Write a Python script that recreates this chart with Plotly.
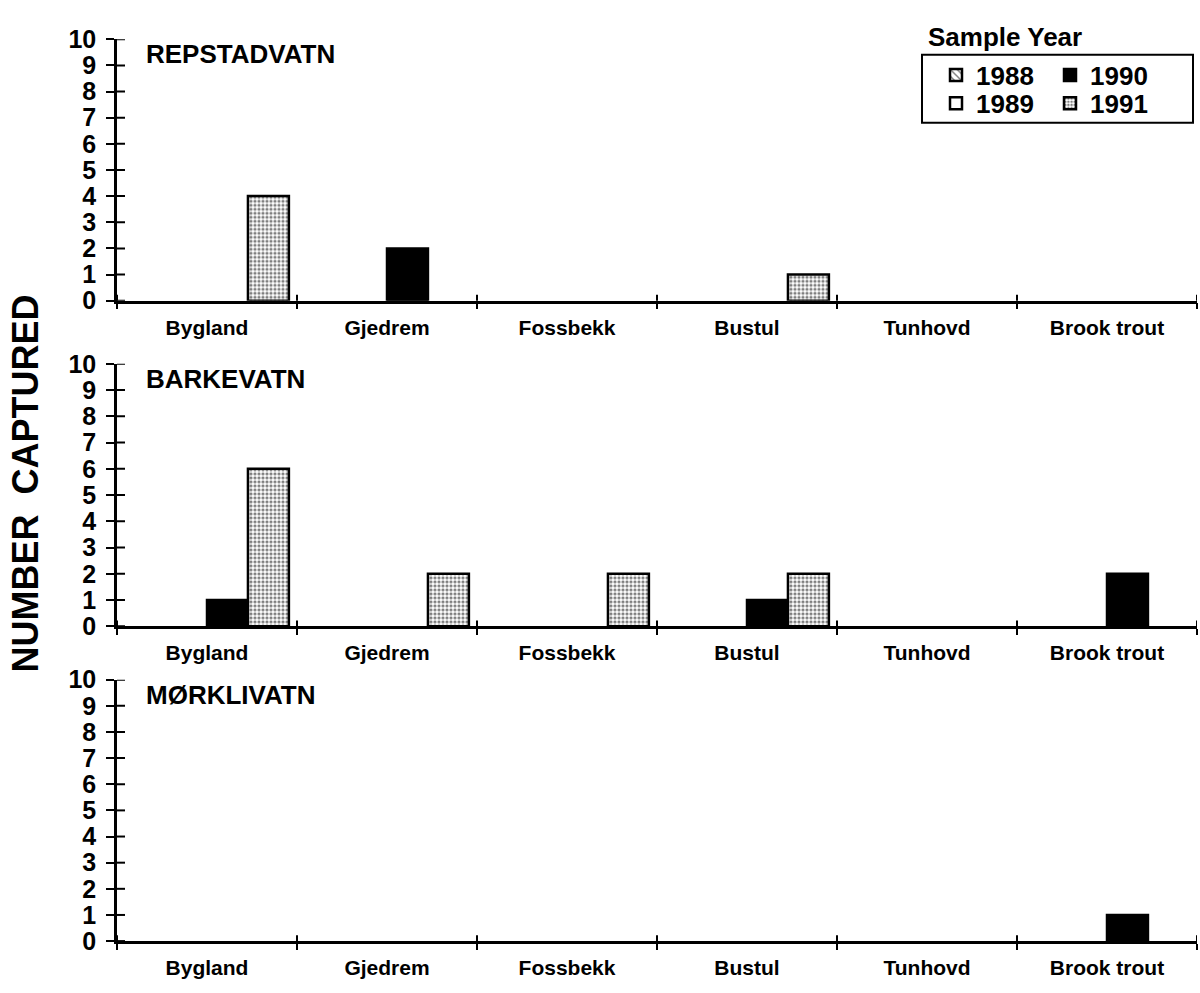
import plotly.graph_objects as go

categories = ["Bygland", "Gjedrem", "Fossbekk", "Bustul", "Tunhovd", "Brook trout"]
years = ["1988", "1989", "1990", "1991"]
lakes = ["REPSTADVATN", "BARKEVATN", "MØRKLIVATN"]

repstadvatn = {
    "1988": [0, 0, 0, 0, 0, 0],
    "1989": [0, 0, 0, 0, 0, 0],
    "1990": [0, 2, 0, 0, 0, 0],
    "1991": [4, 0, 0, 1, 0, 0],
}
barkevatn = {
    "1988": [0, 0, 0, 0, 0, 0],
    "1989": [0, 0, 0, 0, 0, 0],
    "1990": [1, 0, 0, 1, 0, 2],
    "1991": [6, 2, 2, 2, 0, 0],
}
morklivatn = {
    "1988": [0, 0, 0, 0, 0, 0],
    "1989": [0, 0, 0, 0, 0, 0],
    "1990": [0, 0, 0, 0, 0, 1],
    "1991": [0, 0, 0, 0, 0, 0],
}
y_ticks = list(range(0, 11))

panels = [repstadvatn, barkevatn, morklivatn]

FONT = "Liberation Sans, Arial, Helvetica, sans-serif"

styles = {
    "1988": dict(color="white", pattern=dict(shape="\\", fgcolor="black", bgcolor="white", size=6, solidity=0.3)),
    "1989": dict(color="white"),
    "1990": dict(color="black"),
    "1991": dict(color="white", pattern=dict(shape=".", fgcolor="black", bgcolor="white", size=4, solidity=0.5)),
}
# one legend per entry so the 2 x 2 arrangement can be placed exactly
legend_of = {"1988": "legend", "1990": "legend2", "1989": "legend3", "1991": "legend4"}
legend_pos = {  # (symbol-centre x, row-centre y) in px
    "legend": (956, 63), "legend2": (1070, 63),
    "legend3": (956, 92), "legend4": (1070, 92),
}

# pixel layout (page 1200 x 993)
W, H = 1200, 993
x_left, x_right = 117, 1197
panel_px = [(26, 295), (360, 630), (685, 954)]  # (top, bottom) in px
YTICK_HALF = 8   # px the y ticks reach on each side of the axis
XTICK_HALF = 6   # px the x ticks reach on each side of the axis

fig = go.Figure()

for i, (data, lake) in enumerate(zip(panels, lakes), start=1):
    for yr in years:
        st = styles[yr]
        vals = data[yr]
        # zero counts draw no bar (avoids an outline lying on the baseline)
        plot_vals = [v if v > 0 else None for v in vals]
        marker = dict(color=st["color"], line=dict(color="black", width=2.5))
        if "pattern" in st:
            marker["pattern"] = st["pattern"]
        fig.add_trace(go.Bar(
            x=categories, y=plot_vals, name=yr,
            marker=marker,
            xaxis=f"x{i}" if i > 1 else "x",
            yaxis=f"y{i}" if i > 1 else "y",
            showlegend=(i == 1),
            legend=legend_of[yr],
        ))

layout = dict(
    width=W, height=H,
    margin=dict(l=0, r=0, t=0, b=0),
    paper_bgcolor="white", plot_bgcolor="white",
    barmode="group", bargap=0.09, bargroupgap=0,
    font=dict(family=FONT, color="black", weight="bold"),
    showlegend=True,
)

shapes = []
for i, (top, bot) in enumerate(panel_px, start=1):
    dom_y = [(H - bot) / H, (H - top) / H]
    dom_x = [x_left / W, x_right / W]
    xs = "" if i == 1 else str(i)
    layout[f"xaxis{xs}"] = dict(
        domain=dom_x, anchor=f"y{xs}", type="category",
        categoryorder="array", categoryarray=categories,
        range=[-0.5, 5.5], showline=True, linecolor="black", linewidth=2.5,
        ticks="outside", ticklen=XTICK_HALF, tickwidth=2, tickcolor="black",
        tickson="boundaries", showgrid=False, zeroline=False,
        tickfont=dict(family=FONT, size=21, color="black", weight="bold"),
        ticklabelstandoff=6,
    )
    layout[f"yaxis{xs}"] = dict(
        domain=dom_y, anchor=f"x{xs}", range=[0, 10],
        tickmode="array", tickvals=y_ticks, ticktext=[str(v) for v in y_ticks],
        showline=True, linecolor="black", linewidth=2.5,
        ticks="outside", ticklen=YTICK_HALF, tickwidth=2, tickcolor="black",
        showgrid=False, zeroline=False,
        tickfont=dict(family=FONT, size=25, color="black", weight="bold"),
        ticklabelstandoff=5,
    )
    # inward half of the crossing tick marks
    xw = (x_right - x_left)
    ph = (bot - top)
    for v in y_ticks:
        shapes.append(dict(type="line", xref=f"x{xs} domain", yref=f"y{xs}",
                           x0=0, x1=YTICK_HALF / xw, y0=v, y1=v,
                           line=dict(color="black", width=2)))
    for k in range(len(categories) + 1):
        shapes.append(dict(type="line", xref=f"x{xs}", yref=f"y{xs} domain",
                           x0=k - 0.5, x1=k - 0.5, y0=0, y1=XTICK_HALF / ph,
                           line=dict(color="black", width=2)))

for lg, (sx, sy) in legend_pos.items():
    layout[lg] = dict(
        x=(sx - 20) / W, y=1 - sy / H, xanchor="left", yanchor="middle",
        orientation="v", bgcolor="rgba(0,0,0,0)", borderwidth=0,
        font=dict(family=FONT, size=26, color="black", weight="bold"),
        itemclick=False, itemdoubleclick=False,
    )

annotations = []
for i, lake in enumerate(lakes, start=1):
    ys = "" if i == 1 else str(i)
    annotations.append(dict(
        text=lake, xref="paper", yref=f"y{ys} domain", x=144 / W, y=1,
        xanchor="left", yanchor="middle", yshift=-15, showarrow=False,
        font=dict(family=FONT, size=26, color="black", weight="bold"),
    ))
annotations.append(dict(
    text="NUMBER  CAPTURED", xref="paper", yref="paper",
    x=25 / W, y=1 - 483 / H, xanchor="center", yanchor="middle",
    textangle=-90, showarrow=False,
    font=dict(family=FONT, size=36, color="black", weight="bold"),
))
annotations.append(dict(
    text="Sample Year", xref="paper", yref="paper",
    x=926 / W, y=1 - 24 / H, xanchor="left", yanchor="middle", showarrow=False,
    font=dict(family=FONT, size=26, color="black", weight="bold"),
))
layout["annotations"] = annotations
shapes.append(dict(
    type="rect", xref="paper", yref="paper",
    x0=922 / W, x1=1193 / W, y0=1 - 112 / H, y1=1 - 42 / H,
    line=dict(color="black", width=2), fillcolor="rgba(0,0,0,0)",
))
layout["shapes"] = shapes

fig.update_layout(**layout)
fig.write_html("out.html")
